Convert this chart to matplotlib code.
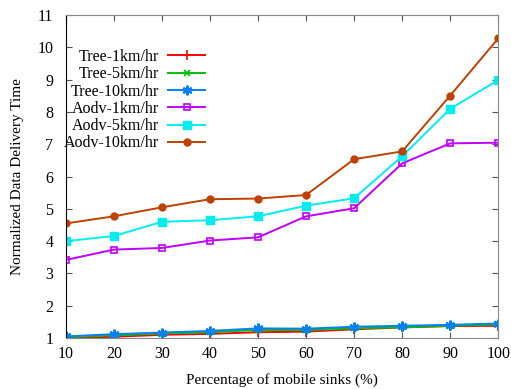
import matplotlib
matplotlib.use('Agg')
import matplotlib.pyplot as plt

# ─────────────────────────────────────────────────────────────────
# Data
# ─────────────────────────────────────────────────────────────────
sinks = [10, 20, 30, 40, 50, 60, 70, 80, 90, 100]

tree_1 = [1.00, 1.04, 1.10, 1.13, 1.18, 1.20, 1.27, 1.33, 1.37, 1.38]
tree_5 = [1.03, 1.08, 1.14, 1.18, 1.25, 1.25, 1.30, 1.33, 1.38, 1.42]
tree_10 = [1.05, 1.12, 1.17, 1.22, 1.30, 1.29, 1.35, 1.38, 1.41, 1.45]
aodv_1 = [3.42, 3.74, 3.79, 4.02, 4.12, 4.77, 5.02, 6.41, 7.03, 7.05]
aodv_5 = [4.00, 4.16, 4.60, 4.65, 4.77, 5.10, 5.33, 6.63, 8.10, 8.99]
aodv_10 = [4.55, 4.77, 5.05, 5.30, 5.32, 5.43, 6.54, 6.78, 8.51, 10.28]

labels = ['Tree-1km/hr', 'Tree-5km/hr', 'Tree-10km/hr',
          'Aodv-1km/hr', 'Aodv-5km/hr', 'Aodv-10km/hr']

plt.rcParams['font.family'] = ['Liberation Serif', 'DejaVu Serif']

fig = plt.figure(figsize=(5.11, 3.89), dpi=100)
ax = fig.add_axes([0.129, 0.131, 0.846, 0.830])

styles = [
    dict(color='#FF0000', marker='+', ms=7, mew=1.2),
    dict(color='#00C000', marker='x', ms=5, mew=1.2),
    dict(color='#0080FF', marker=(6, 2, 0), ms=7, mew=1.5),
    dict(color='#C000FF', marker='s', ms=5, mew=1.2, mfc='none'),
    dict(color='#00EEEE', marker='s', ms=5.5),
    dict(color='#C04000', marker='o', ms=5),
]
series = [tree_1, tree_5, tree_10, aodv_1, aodv_5, aodv_10]
for vals, lab, st in zip(series, labels, styles):
    ax.plot(sinks, vals, label=lab, lw=1.4, **st)

ax.set_xlim(10, 100)
ax.set_ylim(1, 11)
ax.set_xticks(sinks)
ax.set_yticks(range(1, 12))
ax.tick_params(direction='in', top=True, right=True, labelsize=11.5,
               length=4, color='#555555')
ax.tick_params(axis='y', pad=9)
ax.tick_params(axis='x', pad=6)
for side in ['top', 'right', 'bottom']:
    ax.spines[side].set_color('#888888')
ax.spines['left'].set_color('black')

ax.set_xlabel('Percentage of mobile sinks (%)', fontsize=11, labelpad=8)
ax.set_ylabel('Normalized Data Delivery Time', fontsize=11, labelpad=10)

ax.legend(loc='upper left', bbox_to_anchor=(-0.02, 0.915), frameon=False,
          markerfirst=False, fontsize=11.5, handlelength=2.3,
          labelspacing=0.08, borderaxespad=0.0, handletextpad=0.6)

fig.savefig('out.png', dpi=100)
